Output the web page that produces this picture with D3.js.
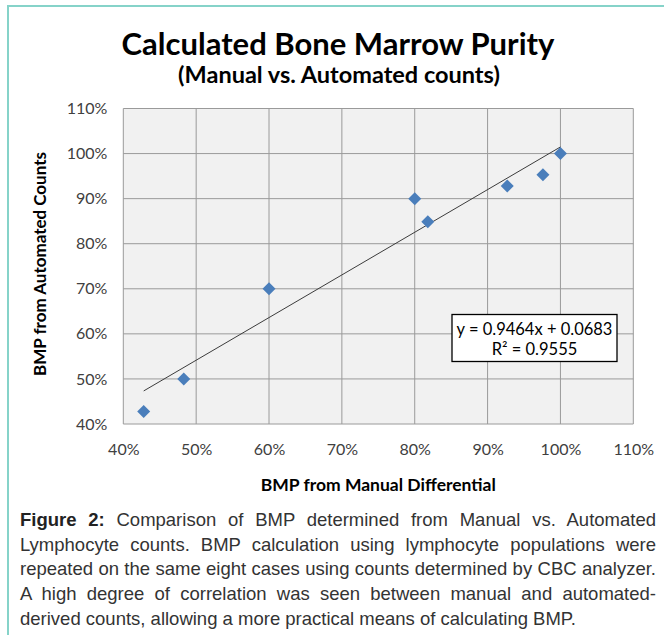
<!DOCTYPE html>
<html>
<head>
<meta charset="utf-8">
<script src="https://cdn.jsdelivr.net/npm/d3@7"></script>
<style>
  html, body { margin: 0; padding: 0; background: #fff; }
  #wrap { position: relative; width: 664px; height: 635px; overflow: hidden; }
  #frame-top { position: absolute; left: 7px; top: 5px; width: 657px; height: 2px; background: #86d3c9; }
  #frame-left { position: absolute; left: 7px; top: 5px; width: 2px; height: 630px; background: #86d3c9; }
  svg { position: absolute; left: 0; top: 0; }
  #caption {
    position: absolute; left: 20px; top: 508px; width: 636px;
    font-family: "Liberation Sans Narrow", "Arial Narrow", "Liberation Sans", Arial, sans-serif;
    font-size: 18.5px; line-height: 24.7px; color: #333;
  }
  #caption div { text-align: justify; text-align-last: justify; white-space: nowrap; }
  #caption div.last { text-align-last: left; }
  #caption b { color: #222; }
</style>
</head>
<body>
<div id="wrap">
  <div id="frame-top"></div>
  <div id="frame-left"></div>
  <div id="caption"></div>
</div>
<script>
'use strict';

// values (percent)
const manualPct    = [42.8, 48.3, 60.0, 80.0, 81.8, 92.7, 97.6, 100.0];
const automatedPct = [42.8, 50.0, 70.0, 90.0, 84.9, 92.8, 95.3, 100.0];

const xTicks = [40, 50, 60, 70, 80, 90, 100, 110];
const yTicks = [40, 50, 60, 70, 80, 90, 100, 110];

// linear trendline as printed on the chart
const trendSlope = 0.9464;
const trendIntercept = 0.0683;
const rSquared = 0.9555;

const captionLines = [
    ['Figure 2:', ' Comparison of BMP determined from Manual vs. Automated'],
    ['', 'Lymphocyte counts. BMP calculation using lymphocyte populations were'],
    ['', 'repeated on the same eight cases using counts determined by CBC analyzer.'],
    ['', 'A high degree of correlation was seen between manual and automated-'],
    ['', 'derived counts, allowing a more practical means of calculating BMP.']
];

var chartFont = 'Lato, "Open Sans", sans-serif',
    tickSize = '16px',
    plot = {left: 123.3, right: 633.3, top: 108.5, bottom: 424};

var svg = d3.select('#wrap')
    .append('svg')
    .attr('width', 664)
    .attr('height', 500);

var x = d3.scaleLinear().domain([40, 110]).range([plot.left, plot.right]),
    y = d3.scaleLinear().domain([40, 110]).range([plot.bottom, plot.top]);

// titles
svg.append('text')
    .attr('x', 338)
    .attr('y', 55)
    .attr('text-anchor', 'middle')
    .style('font-family', chartFont)
    .style('font-weight', 'bold')
    .style('font-size', '31px')
    .style('fill', '#000')
    .text('Calculated Bone Marrow Purity');

svg.append('text')
    .attr('x', 339)
    .attr('y', 83)
    .attr('text-anchor', 'middle')
    .style('font-family', chartFont)
    .style('font-weight', 'bold')
    .style('font-size', '23.5px')
    .style('fill', '#000')
    .text('(Manual vs. Automated counts)');

// plot area + grid
svg.append('rect')
    .attr('x', plot.left)
    .attr('y', plot.top)
    .attr('width', plot.right - plot.left)
    .attr('height', plot.bottom - plot.top)
    .style('fill', '#f1f1f1');

var grid = svg.append('g').attr('class', 'grid');

grid.selectAll('line.v')
    .data(xTicks)
    .enter().append('line')
    .attr('class', 'v')
    .attr('x1', function (d) { return x(d); })
    .attr('x2', function (d) { return x(d); })
    .attr('y1', plot.top)
    .attr('y2', plot.bottom)
    .style('stroke', '#9a9a9a')
    .style('stroke-width', 1);

grid.selectAll('line.h')
    .data(yTicks)
    .enter().append('line')
    .attr('class', 'h')
    .attr('x1', plot.left)
    .attr('x2', plot.right)
    .attr('y1', function (d) { return y(d); })
    .attr('y2', function (d) { return y(d); })
    .style('stroke', '#9a9a9a')
    .style('stroke-width', 1);

// axes (labels only)
var xAxis = d3.axisBottom(x)
    .tickValues(xTicks)
    .tickSize(0)
    .tickPadding(0)
    .tickFormat(function (d) { return d + '%'; });

var yAxis = d3.axisLeft(y)
    .tickValues(yTicks)
    .tickSize(0)
    .tickPadding(0)
    .tickFormat(function (d) { return d + '%'; });

var gx = svg.append('g')
    .attr('transform', 'translate(0,' + (plot.bottom + 20) + ')')
    .call(xAxis);

var gy = svg.append('g')
    .attr('transform', 'translate(' + (plot.left - 16) + ',0)')
    .call(yAxis);

[gx, gy].forEach(function (g) {
    g.select('.domain').remove();
    g.selectAll('text')
        .style('font-family', chartFont)
        .style('font-size', tickSize)
        .style('fill', '#404040');
});
gx.selectAll('text').attr('dy', '0.71em');

// axis titles
svg.append('text')
    .attr('x', (plot.left + plot.right) / 2)
    .attr('y', 491)
    .attr('text-anchor', 'middle')
    .style('font-family', chartFont)
    .style('font-weight', 'bold')
    .style('font-size', '17.5px')
    .style('fill', '#000')
    .text('BMP from Manual Differential');

svg.append('text')
    .attr('transform', 'rotate(-90)')
    .attr('x', -264)
    .attr('y', 46)
    .attr('text-anchor', 'middle')
    .style('font-family', chartFont)
    .style('font-weight', 'bold')
    .style('font-size', '17px')
    .style('fill', '#000')
    .text('BMP from Automated Counts');

// trendline over the range of the data
var points = manualPct.map(function (d, i) { return {x: d, y: automatedPct[i]}; }),
    xExtent = d3.extent(manualPct),
    trend = xExtent.map(function (d) {
        return {x: d, y: (trendSlope * d / 100 + trendIntercept) * 100};
    });

svg.append('line')
    .attr('x1', x(trend[0].x))
    .attr('y1', y(trend[0].y))
    .attr('x2', x(trend[1].x))
    .attr('y2', y(trend[1].y))
    .style('stroke', '#3c3c3c')
    .style('stroke-width', 1);

// markers
svg.append('g')
    .selectAll('path')
    .data(points)
    .enter().append('path')
    .attr('transform', function (d) { return 'translate(' + x(d.x) + ',' + y(d.y) + ')'; })
    .attr('d', 'M0,-6.5L6.5,0L0,6.5L-6.5,0Z')
    .style('fill', '#4a7ebb');

// equation label
var eq = svg.append('g').attr('transform', 'translate(452,314.5)');

eq.append('rect')
    .attr('width', 165)
    .attr('height', 47)
    .style('fill', '#fff')
    .style('stroke', '#000')
    .style('stroke-width', 1.3);

eq.append('text')
    .attr('x', 82.5)
    .attr('y', 20)
    .attr('text-anchor', 'middle')
    .style('font-family', chartFont)
    .style('font-size', '16.5px')
    .style('fill', '#000')
    .text('y = ' + trendSlope + 'x + ' + trendIntercept);

eq.append('text')
    .attr('x', 82.5)
    .attr('y', 40)
    .attr('text-anchor', 'middle')
    .style('font-family', chartFont)
    .style('font-size', '16.5px')
    .style('fill', '#000')
    .text('R\u00b2 = ' + rSquared);

// caption
var cap = d3.select('#caption');
captionLines.forEach(function (line, i) {
    var row = cap.append('div').classed('last', i === captionLines.length - 1);
    if (line[0]) row.append('b').text(line[0]);
    row.append('span').text(line[1]);
});
</script>
</body>
</html>
